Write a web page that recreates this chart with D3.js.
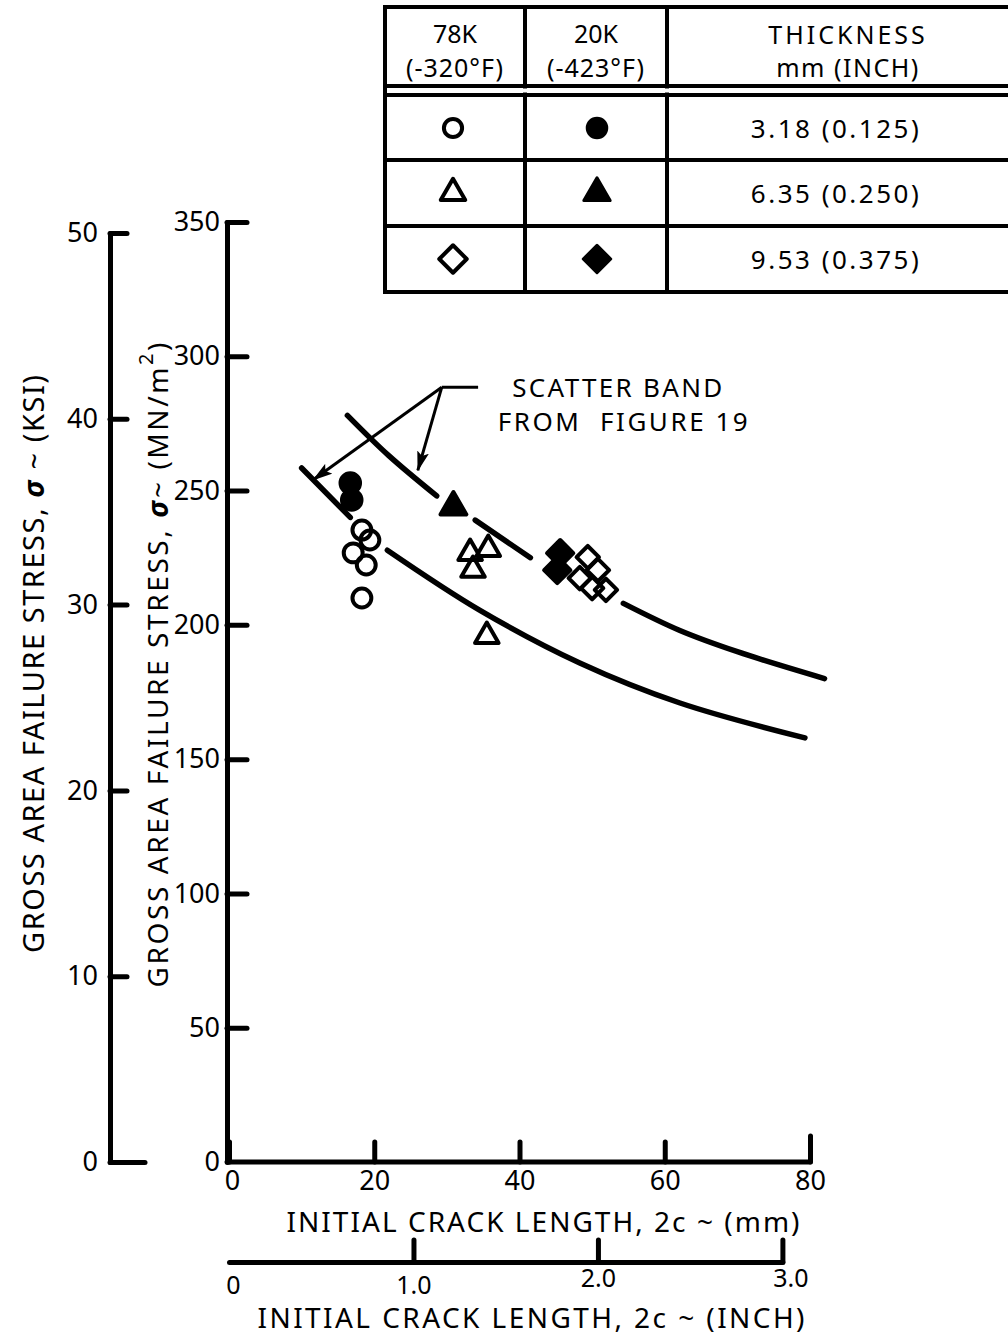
<!DOCTYPE html>
<html>
<head>
<meta charset="utf-8">
<script src="https://cdn.jsdelivr.net/npm/d3@7"></script>
<style>
  body { margin: 0; background: #fff; }
  svg { display: block; font-family: "Noto Sans", sans-serif; }
</style>
</head>
<body>
<div id="chart"></div>
<script>
// tick values for the four scales
const mmTicks = [0, 20, 40, 60, 80];
const inchTicks = [0, 1, 2, 3];
const mnTicks = [0, 50, 100, 150, 200, 250, 300, 350];
const ksiTicks = [0, 10, 20, 30, 40, 50];

// test points: [crack length mm, stress MN/m^2]
const open78Circle = [[18.3, 235.3], [19.4, 231.6], [17.1, 226.8], [18.9, 222.3], [18.3, 210]];
const filled20Circle = [[16.7, 252.8], [16.9, 246.5]];
const open78Triangle = [[33.2, 226.7], [35.7, 228.2], [33.6, 220.4], [35.5, 195.8]];
const filled20Triangle = [[30.9, 243.9]];
const open78Diamond = [[49.4, 225.2], [50.8, 220.4], [48.3, 217.4], [50.0, 213.7], [51.9, 213.0]];
const filled20Diamond = [[45.6, 226.7], [45.2, 220.4]];

// scatter band from figure 19, drawn in pieces (gaps around the symbols)
const upperBand = [
  [[16.3, 278], [22, 263], [28.6, 248]],
  [[33.9, 239], [41.5, 225]],
  [[54.3, 208], [62, 198], [70, 190], [82, 180]]
];
const lowerBand = [
  [[10, 258.4], [16.7, 240]],
  [[21.8, 227.8], [34.5, 205.5], [48.3, 185.8], [62.1, 170.9], [79.3, 157.9]]
];

// legend table
const tempHeaders = [['78K', '(-320°F)'], ['20K', '(-423°F)']];
const thicknessLabels = ['3.18 (0.125)', '6.35 (0.250)', '9.53 (0.375)'];

const W = 1008, H = 1335;
const svg = d3.select('#chart').append('svg')
  .attr('width', W)
  .attr('height', H);

const x = d3.scaleLinear().domain([0, 80]).range([229, 810]);
const xIn = d3.scaleLinear().domain([0, 3]).range([229, x(76.2)]);
const y = d3.scaleLinear().domain([0, 350]).range([1162, 222]);
const yKsi = d3.scaleLinear().domain([0, 50]).range([1162, 233]);

function styleAxis(g, fs) {
  g.attr('font-family', null).attr('font-size', fs);
  g.select('.domain').attr('stroke', '#000').attr('stroke-width', 5).attr('stroke-linecap', 'round');
  g.selectAll('.tick line').attr('stroke', '#000').attr('stroke-width', 5).attr('stroke-linecap', 'round');
  g.selectAll('.tick text').attr('fill', '#000');
}

// MN/m^2 axis
const gMn = svg.append('g')
  .attr('transform', 'translate(227,0)')
  .call(d3.axisLeft(y).tickValues(mnTicks).tickSize(-20).tickSizeOuter(0).tickPadding(7));
styleAxis(gMn, 27);
gMn.selectAll('.tick').filter(d => d === 0).select('line').remove();

// KSI axis
const gKsi = svg.append('g')
  .attr('transform', 'translate(110,0)')
  .call(d3.axisLeft(yKsi).tickValues(ksiTicks).tickSize(-17).tickSizeOuter(0).tickPadding(12));
styleAxis(gKsi, 27);
gKsi.selectAll('.tick').filter(d => d === 0).select('line').attr('x2', 35);

// mm axis
const gMm = svg.append('g')
  .attr('transform', 'translate(0,1162)')
  .call(d3.axisBottom(x).tickValues(mmTicks).tickSize(-20).tickSizeOuter(0).tickPadding(9));
styleAxis(gMm, 27);
gMm.select('.domain').attr('d', `M${x(0) - 2},0H${x(80)}`);
gMm.selectAll('.tick').filter(d => d === 80).select('line').attr('y2', -26);
gMm.selectAll('.tick').filter(d => d === 0).select('text').attr('dx', 3);

// inch axis
const gIn = svg.append('g')
  .attr('transform', 'translate(0,1262)')
  .call(d3.axisBottom(xIn).tickValues(inchTicks).tickSize(-22).tickSizeOuter(0).tickPadding(14)
    .tickFormat(d => d === 0 ? '0' : d.toFixed(1)));
styleAxis(gIn, 25);
gIn.selectAll('.tick').filter(d => d === 0).select('line').remove();
gIn.selectAll('.tick').filter(d => d === 0).select('text').attr('dx', 4);
gIn.selectAll('.tick').filter(d => d >= 2).select('text').attr('dy', '0.45em');
gIn.selectAll('.tick').filter(d => d === 3).select('text').attr('dx', 8);

// axis titles
svg.append('text')
  .attr('x', 543).attr('y', 1232)
  .attr('text-anchor', 'middle')
  .attr('font-size', 28)
  .attr('textLength', 513)
  .attr('lengthAdjust', 'spacing')
  .text('INITIAL CRACK LENGTH, 2c ~ (mm)');

svg.append('text')
  .attr('x', 531).attr('y', 1328)
  .attr('text-anchor', 'middle')
  .attr('font-size', 28)
  .attr('textLength', 547)
  .attr('lengthAdjust', 'spacing')
  .text('INITIAL CRACK LENGTH, 2c ~ (INCH)');

const ksiTitle = svg.append('text')
  .attr('transform', 'translate(44,664) rotate(-90)')
  .attr('text-anchor', 'middle')
  .attr('font-size', 29)
  .attr('textLength', 578)
  .attr('lengthAdjust', 'spacing');
ksiTitle.append('tspan').text('GROSS AREA FAILURE STRESS, ');
ksiTitle.append('tspan').attr('font-weight', 'bold').attr('font-style', 'italic').text('σ');
ksiTitle.append('tspan').text(' ~ (KSI)');

const mnTitle = svg.append('text')
  .attr('transform', 'translate(168,665) rotate(-90)')
  .attr('text-anchor', 'middle')
  .attr('font-size', 28)
  .attr('textLength', 645)
  .attr('lengthAdjust', 'spacing');
mnTitle.append('tspan').text('GROSS AREA FAILURE STRESS, ');
mnTitle.append('tspan').attr('font-weight', 'bold').attr('font-style', 'italic').text('σ');
mnTitle.append('tspan').text('~ (MN/m');
mnTitle.append('tspan').attr('font-size', 20).attr('dy', -15).text('2');
mnTitle.append('tspan').attr('dy', 15).text(')');

// scatter band curves
const line = d3.line()
  .x(d => x(d[0]))
  .y(d => y(d[1]))
  .curve(d3.curveCatmullRom);

svg.append('g')
  .selectAll('path')
  .data(upperBand.concat(lowerBand))
  .join('path')
  .attr('d', line)
  .attr('fill', 'none')
  .attr('stroke', '#000')
  .attr('stroke-width', 5.5)
  .attr('stroke-linecap', 'round');

// symbols
const circleSym = d3.symbol().type(d3.symbolCircle);
const triSym = d3.symbol().type(d3.symbolTriangle);
const diaSym = d3.symbol().type(d3.symbolDiamond2);

function drawPoints(data, sym, size, filled) {
  svg.append('g')
    .selectAll('path')
    .data(data)
    .join('path')
    .attr('transform', d => `translate(${x(d[0])},${y(d[1])})`)
    .attr('d', sym.size(size)())
    .attr('fill', filled ? '#000' : 'none')
    .attr('stroke', '#000')
    .attr('stroke-width', 4)
    .attr('stroke-linejoin', 'round');
}

drawPoints(open78Circle, circleSym, 280, false);
drawPoints(filled20Circle, circleSym, 300, true);
drawPoints(open78Triangle, triSym, 240, false);
drawPoints(filled20Triangle, triSym, 290, true);
drawPoints(filled20Diamond, diaSym, 440, true);
drawPoints(open78Diamond, diaSym, 320, false);

// scatter band annotation
const defs = svg.append('defs');
defs.append('marker')
  .attr('id', 'arrow')
  .attr('viewBox', '0 0 20 12')
  .attr('refX', 19).attr('refY', 6)
  .attr('markerWidth', 20).attr('markerHeight', 12)
  .attr('markerUnits', 'userSpaceOnUse')
  .attr('orient', 'auto')
  .append('path')
  .attr('d', 'M0,0L20,6L0,12L4,6Z')
  .attr('fill', '#000');

const knee = [29.3, 288.5];
const leaderEnd = [34.3, 288.5];
const arrowTips = [[11.6, 254], [26.0, 257.5]];

svg.append('line')
  .attr('x1', x(knee[0])).attr('y1', y(knee[1]))
  .attr('x2', x(leaderEnd[0])).attr('y2', y(leaderEnd[1]))
  .attr('stroke', '#000').attr('stroke-width', 3);

svg.append('g')
  .selectAll('line')
  .data(arrowTips)
  .join('line')
  .attr('x1', x(knee[0])).attr('y1', y(knee[1]))
  .attr('x2', d => x(d[0])).attr('y2', d => y(d[1]))
  .attr('stroke', '#000').attr('stroke-width', 3)
  .attr('marker-end', 'url(#arrow)');

svg.append('text')
  .attr('x', x(39)).attr('y', 397)
  .attr('font-size', 26)
  .attr('textLength', 210)
  .attr('lengthAdjust', 'spacing')
  .text('SCATTER BAND');
svg.append('text')
  .attr('x', x(37)).attr('y', 431)
  .attr('font-size', 26)
  .attr('textLength', 250)
  .attr('lengthAdjust', 'spacing')
  .style('white-space', 'pre')
  .text('FROM  FIGURE 19');

// legend table
const tbl = svg.append('g');
const colX = [385, 525, 667, 1012];
const rowY = [95, 160, 226, 292];
const tblTop = 7, headBottom = 86;

tbl.append('rect')
  .attr('x', colX[0]).attr('y', tblTop)
  .attr('width', colX[3] - colX[0]).attr('height', rowY[3] - tblTop)
  .attr('fill', '#fff').attr('stroke', '#000').attr('stroke-width', 4);

tbl.selectAll('.hline')
  .data([headBottom, rowY[0], rowY[1], rowY[2]])
  .join('line')
  .attr('x1', colX[0]).attr('x2', colX[3])
  .attr('y1', d => d).attr('y2', d => d)
  .attr('stroke', '#000').attr('stroke-width', 4);

tbl.selectAll('.vline')
  .data([colX[1], colX[2]])
  .join('line')
  .attr('x1', d => d).attr('x2', d => d)
  .attr('y1', tblTop).attr('y2', rowY[3])
  .attr('stroke', '#000').attr('stroke-width', 4);

// white gap between the double rule
tbl.append('rect')
  .attr('x', colX[0] + 2).attr('y', headBottom + 2.5)
  .attr('width', colX[3] - colX[0]).attr('height', rowY[0] - headBottom - 5)
  .attr('fill', '#fff');

const colMid = [(colX[0] + colX[1]) / 2, (colX[1] + colX[2]) / 2];
tempHeaders.forEach((h, i) => {
  tbl.append('text').attr('x', colMid[i]).attr('y', 43)
    .attr('text-anchor', 'middle').attr('font-size', 25).text(h[0]);
  tbl.append('text').attr('x', colMid[i]).attr('y', 77)
    .attr('text-anchor', 'middle').attr('font-size', 25).attr('letter-spacing', 1).text(h[1]);
});
tbl.append('text').attr('x', 848).attr('y', 44)
  .attr('text-anchor', 'middle').attr('font-size', 25).attr('letter-spacing', 3).text('THICKNESS');
tbl.append('text').attr('x', 848).attr('y', 77)
  .attr('text-anchor', 'middle').attr('font-size', 25).attr('letter-spacing', 1.5).text('mm (INCH)');

const rowMid = [128, 193, 259];
thicknessLabels.forEach((t, i) => {
  tbl.append('text').attr('x', 836).attr('y', rowMid[i] + 10)
    .attr('text-anchor', 'middle').attr('font-size', 26).attr('letter-spacing', 2.5).text(t);
});

const legendSyms = [
  [circleSym, 260, 300],
  [triSym, 260, 300],
  [diaSym, 480, 480]
];
legendSyms.forEach((s, i) => {
  tbl.append('path')
    .attr('transform', `translate(${colMid[0] - 2},${rowMid[i]})`)
    .attr('d', s[0].size(s[1])())
    .attr('fill', 'none').attr('stroke', '#000').attr('stroke-width', 4)
    .attr('stroke-linejoin', 'round');
  tbl.append('path')
    .attr('transform', `translate(${colMid[1] + 1},${rowMid[i]})`)
    .attr('d', s[0].size(s[2])())
    .attr('fill', '#000').attr('stroke', '#000').attr('stroke-width', 3)
    .attr('stroke-linejoin', 'round');
});
</script>
</body>
</html>
